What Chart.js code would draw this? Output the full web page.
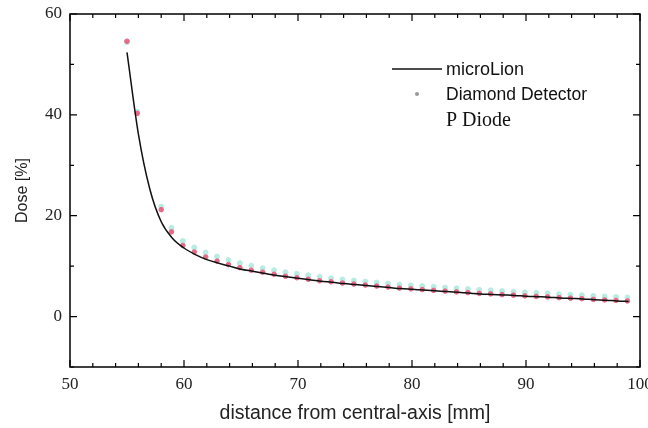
<!DOCTYPE html>
<html>
<head>
<meta charset="utf-8">
<script src="https://cdn.jsdelivr.net/npm/chart.js@4.4.0/dist/chart.umd.min.js"></script>
<style>
  html, body { margin: 0; padding: 0; background: #fff; overflow: hidden; }
  canvas { display: block; }
</style>
</head>
<body>
<canvas id="chart" width="648" height="428"></canvas>
<script>
// microLion curve, one value per mm
const distance = [55, 56, 57, 58, 59, 60, 61, 62, 63, 64, 65, 66, 67, 68, 69, 70, 71, 72, 73, 74, 75, 76, 77,
    78, 79, 80, 81, 82, 83, 84, 85, 86, 87, 88, 89, 90, 91, 92, 93, 94, 95, 96, 97, 98, 99];
const microLion = [52.4, 36.2, 25.3, 18.8, 15.5, 13.6, 12.3, 11.3, 10.6, 10.0, 9.4, 9.0, 8.6, 8.2, 7.9, 7.6, 7.3,
    7.0, 6.8, 6.55, 6.35, 6.15, 5.95, 5.75, 5.55, 5.4, 5.25, 5.1, 4.95, 4.8, 4.65, 4.5, 4.4, 4.3, 4.2, 4.05,
    3.95, 3.85, 3.7, 3.6, 3.5, 3.35, 3.25, 3.1, 3.0];

// detector readings
const detectorDistance = [55, 55.9, 58.0, 58.9, 59.9, 60.9, 61.9, 62.9, 63.9, 64.9, 65.9, 66.9, 67.9, 68.9,
    69.9, 70.9, 71.9, 72.9, 73.9, 74.9, 75.9, 76.9, 77.9, 78.9, 79.9, 80.9, 81.9, 82.9, 83.9, 84.9, 85.9,
    86.9, 87.9, 88.9, 89.9, 90.9, 91.9, 92.9, 93.9, 94.9, 95.9, 96.9, 97.9, 98.9];
const diamond = [54.6, 40.3, 21.2, 16.8, 14.1, 12.8, 11.8, 11.0, 10.3, 9.7, 9.2, 8.8, 8.4, 8.0, 7.7, 7.4, 7.1,
    6.9, 6.65, 6.45, 6.25, 6.05, 5.85, 5.65, 5.5, 5.35, 5.2, 5.05, 4.9, 4.75, 4.6, 4.5, 4.35, 4.25, 4.1, 4.0,
    3.9, 3.75, 3.65, 3.55, 3.4, 3.3, 3.2, 3.1];
const pDiode = [54.4, 40.6, 21.8, 17.6, 15.0, 13.7, 12.7, 11.9, 11.2, 10.6, 10.1, 9.6, 9.2, 8.8, 8.5, 8.2, 7.9,
    7.6, 7.35, 7.15, 6.95, 6.75, 6.55, 6.35, 6.2, 6.05, 5.9, 5.75, 5.6, 5.45, 5.3, 5.2, 5.05, 4.95, 4.8, 4.7,
    4.6, 4.45, 4.35, 4.25, 4.1, 4.0, 3.9, 3.8];

const toPoints = (xs, ys) => xs.map((x, i) => ({ x: x, y: ys[i] }));

const serif = '"Liberation Serif", "Times New Roman", serif';
const sans = '"Liberation Sans", Arial, sans-serif';

// inward ticks on all four sides plus the hand-laid legend
const framePlugin = {
    id: 'frame',
    afterDraw(chart) {
        const ctx = chart.ctx;
        const a = chart.chartArea;
        const xs = chart.scales.x;
        const ys = chart.scales.y;
        ctx.save();
        ctx.strokeStyle = '#000';
        ctx.lineWidth = 1.5;
        ctx.strokeRect(a.left, a.top, a.right - a.left, a.bottom - a.top);
        ctx.lineWidth = 1.2;
        ctx.beginPath();
        xs.ticks.forEach(t => {
            const px = xs.getPixelForValue(t.value);
            const len = t.value % 10 === 0 ? 7 : 4;
            ctx.moveTo(px, a.bottom); ctx.lineTo(px, a.bottom - len);
            ctx.moveTo(px, a.top); ctx.lineTo(px, a.top + len);
        });
        ys.ticks.forEach(t => {
            const py = ys.getPixelForValue(t.value);
            const len = t.value % 20 === 0 ? 7 : 4;
            ctx.moveTo(a.left, py); ctx.lineTo(a.left + len, py);
            ctx.moveTo(a.right, py); ctx.lineTo(a.right - len, py);
        });
        ctx.stroke();

        // legend
        ctx.textBaseline = 'middle';
        ctx.fillStyle = '#111';
        ctx.strokeStyle = '#111';
        ctx.lineWidth = 1.5;
        ctx.beginPath();
        ctx.moveTo(392, 69); ctx.lineTo(442, 69);
        ctx.stroke();
        ctx.font = '18px ' + sans;
        ctx.fillText('microLion', 446, 70);
        ctx.fillStyle = '#999';
        ctx.beginPath();
        ctx.arc(417, 94, 2, 0, Math.PI * 2);
        ctx.fill();
        ctx.fillStyle = '#111';
        ctx.font = '17.5px ' + sans;
        ctx.fillText('Diamond Detector', 446, 95);
        ctx.font = '20px ' + serif;
        ctx.fillText('P Diode', 446, 121);
        ctx.restore();
    }
};

new Chart(document.getElementById('chart'), {
    type: 'scatter',
    data: {
        datasets: [
            {
                label: 'P Diode',
                data: toPoints(detectorDistance, pDiode),
                backgroundColor: '#b8ece2',
                borderColor: '#b8ece2',
                pointRadius: 2.5,
                order: 3
            },
            {
                label: 'Diamond Detector',
                data: toPoints(detectorDistance, diamond),
                backgroundColor: '#e46a86',
                borderColor: '#e46a86',
                pointRadius: 2.3,
                order: 2
            },
            {
                label: 'microLion',
                type: 'line',
                data: toPoints(distance, microLion),
                borderColor: '#111',
                borderWidth: 1.5,
                pointRadius: 0,
                cubicInterpolationMode: 'monotone',
                order: 1
            }
        ]
    },
    options: {
        responsive: false,
        animation: false,
        devicePixelRatio: 1,
        layout: { padding: { top: 14, right: 8, left: 13, bottom: 3 } },
        plugins: {
            legend: { display: false },
            tooltip: { enabled: false }
        },
        scales: {
            x: {
                type: 'linear',
                min: 50,
                max: 100,
                afterFit(scale) {
                    scale.height = 58;
                    scale.paddingRight = 0;
                    scale.paddingLeft = 0;
                },
                grid: { display: false, drawTicks: false },
                border: { display: false },
                ticks: {
                    stepSize: 2,
                    autoSkip: false,
                    maxRotation: 0,
                    padding: 7,
                    color: '#222',
                    font: { family: serif, size: 17 },
                    callback: (v) => (v % 10 === 0 ? v : '')
                },
                title: {
                    display: true,
                    text: 'distance from central-axis [mm]',
                    color: '#222',
                    font: { family: sans, size: 19.5 },
                    padding: { top: 4, bottom: 0 }
                }
            },
            y: {
                min: -10,
                max: 60,
                afterFit(scale) {
                    scale.width = 57;
                    scale.paddingTop = 0;
                    scale.paddingBottom = 0;
                },
                grid: { display: false, drawTicks: false },
                border: { display: false },
                ticks: {
                    stepSize: 10,
                    autoSkip: false,
                    padding: 8,
                    color: '#222',
                    font: { family: serif, size: 17 },
                    callback: (v) => (v % 20 === 0 ? v : '')
                },
                title: {
                    display: true,
                    text: 'Dose [%]',
                    color: '#222',
                    font: { family: sans, size: 16 },
                    padding: { top: 0, bottom: 4 }
                }
            }
        }
    },
    plugins: [framePlugin]
});
</script>
</body>
</html>
